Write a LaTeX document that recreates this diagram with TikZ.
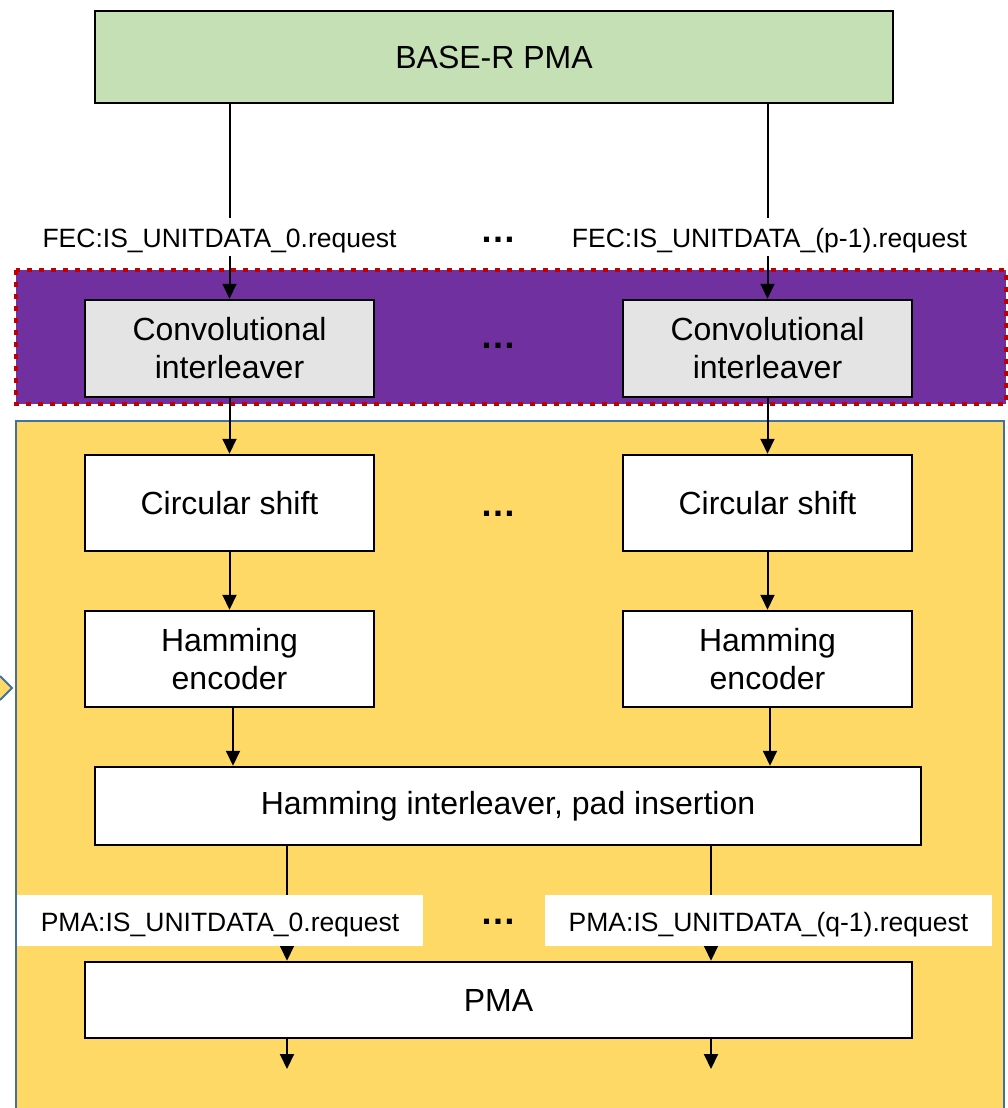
\documentclass[tikz,border=0pt]{standalone}
\usepackage{fontspec}
\setmainfont{Liberation Sans}
\usetikzlibrary{arrows.meta}
\definecolor{basegreen}{HTML}{C5E0B4}
\definecolor{convgray}{HTML}{E4E4E4}
\definecolor{purp}{HTML}{7030A0}
\definecolor{dotred}{HTML}{C00000}
\definecolor{yel}{HTML}{FFD966}
\definecolor{bordblue}{HTML}{41719C}
\begin{document}
\begin{tikzpicture}[x=1pt,y=-1pt,
  blk/.style={draw=black, line width=2.5pt, fill=white, inner sep=0pt, align=center,
    font=\fontsize{32}{38}\selectfont},
  arr/.style={line width=2pt, -{Triangle[length=15pt,width=14pt]}},
  lbl/.style={fill=white, inner sep=0pt, text height=22pt, text depth=0pt,
    font=\fontsize{26.5}{30}\selectfont},
  dots/.style={font=\fontsize{36}{40}\selectfont\bfseries, inner sep=0pt}]
\useasboundingbox (0,0) rectangle (1008,1108);
% background regions
\fill[yel] (16,421) rectangle (1004,1108);
\draw[bordblue, line width=2pt] (16,1108) -- (16,421) -- (1004,421) -- (1004,1108);
\fill[yel] (0,676) -- (12,688) -- (0,700) -- cycle;
\draw[bordblue, line width=2pt] (0,676) -- (12,688) -- (0,700);
\draw[fill=purp, draw=dotred, line width=4.5pt, dash pattern=on 5pt off 7pt] (16,270) rectangle (1006,404);
% blocks
\node[blk, fill=basegreen, minimum width=798, minimum height=92] (base) at (494,57) {BASE-R PMA};
\node[blk, fill=convgray, minimum width=289, minimum height=97] (conv1) at (229.5,348.5) {Convolutional\\interleaver};
\node[blk, fill=convgray, minimum width=289, minimum height=97] (conv2) at (767.5,348.5) {Convolutional\\interleaver};
\node[blk, minimum width=289, minimum height=96] (circ1) at (229.5,503) {Circular shift};
\node[blk, minimum width=289, minimum height=96] (circ2) at (767.5,503) {Circular shift};
\node[blk, minimum width=289, minimum height=96] (ham1) at (229.5,659) {Hamming\\encoder};
\node[blk, minimum width=289, minimum height=96] (ham2) at (767.5,659) {Hamming\\encoder};
\node[blk, minimum width=826, minimum height=78] (hil) at (508,806) {Hamming interleaver, pad insertion};
\node[blk, minimum width=827, minimum height=76] (pma) at (498.5,1000) {PMA};
% coordinates
\coordinate (ha) at (233,0);
\coordinate (hb) at (770,0);
\coordinate (c1) at (287,0);
\coordinate (c2) at (711,0);
\coordinate (o1) at (287,1069);
\coordinate (o2) at (711,1069);
% connectors
\draw[arr] (base.south -| conv1.north) -- (conv1.north);
\draw[arr] (base.south -| conv2.north) -- (conv2.north);
\draw[arr] (conv1.south) -- (circ1.north);
\draw[arr] (conv2.south) -- (circ2.north);
\draw[arr] (circ1.south) -- (ham1.north);
\draw[arr] (circ2.south) -- (ham2.north);
\draw[arr] (ham1.south -| ha) -- (hil.north -| ha);
\draw[arr] (ham2.south -| hb) -- (hil.north -| hb);
\draw[arr] (hil.south -| c1) -- (pma.north -| c1);
\draw[arr] (hil.south -| c2) -- (pma.north -| c2);
\draw[arr] (pma.south -| o1) -- (o1);
\draw[arr] (pma.south -| o2) -- (o2);
% labels
\node[lbl, inner ysep=8pt, inner xsep=4pt] (fec1) at (219.5,236.5) {FEC:IS\_UNITDATA\_0.request};
\node[lbl, inner ysep=8pt, inner xsep=4pt] (fec2) at (769.5,236.5) {FEC:IS\_UNITDATA\_(p-1).request};
\node[lbl, minimum width=406, minimum height=51] (pl1) at (220,920.5) {PMA:IS\_UNITDATA\_0.request};
\node[lbl, minimum width=447, minimum height=51] (pl2) at (768.5,920.5) {PMA:IS\_UNITDATA\_(q-1).request};
% ellipses
\node[dots] (d1) at (498,240) {…};
\node[dots] (d2) at (498,346) {…};
\node[dots] (d3) at (498,514) {…};
\node[dots] (d4) at (498,922) {…};
\end{tikzpicture}
\end{document}
